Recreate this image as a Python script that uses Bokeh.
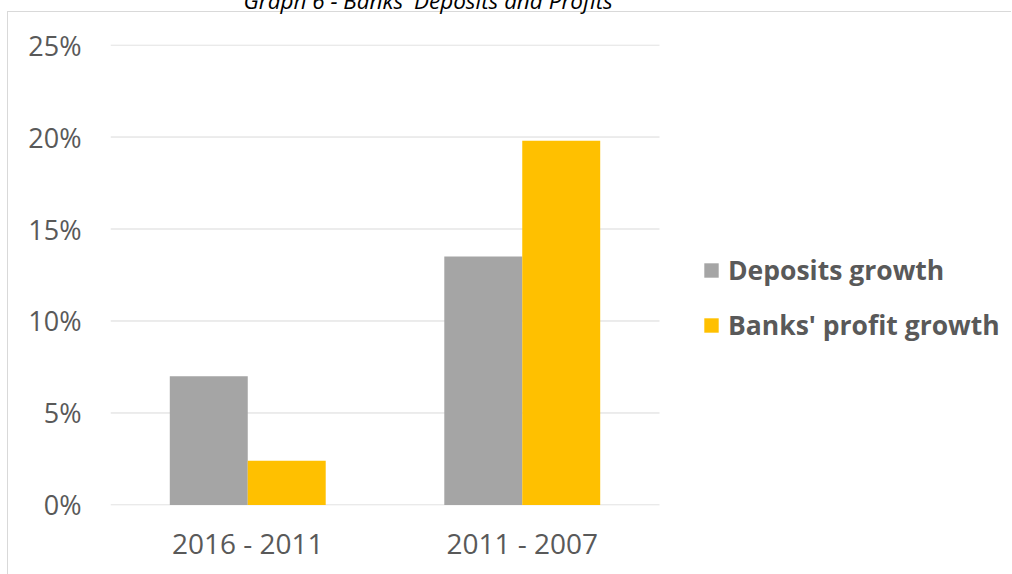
from bokeh.plotting import figure
from bokeh.models import (Range1d, FixedTicker, NumeralTickFormatter,
                          Legend, LegendItem, ColumnDataSource)
from bokeh.embed import file_html
from bokeh.resources import INLINE

# ---- data ----
categories = ["2016 - 2011", "2011 - 2007"]
deposits_growth = [0.070, 0.135]
profit_growth = [0.024, 0.198]
y_ticks = [0.0, 0.05, 0.10, 0.15, 0.20, 0.25]
series_names = ["Deposits growth", "Banks' profit growth"]
series_colors = ["#A5A5A5", "#FFC000"]
title_text = "Graph 6 - Banks' Deposits and Profits"

FONT = "Open Sans"
TXT = "#595959"
GRID = "#d9d9d9"

# layout (pixels)
W, H, TOP_SHIFT = 1004, 622, 48
LEFT_B, TOP_B, BOTTOM_B = 103, 92, 69
PLOT_W = 549                      # width of the category (bar) area
FRAME_W = W - LEFT_B              # frame runs to the right edge (legend lives inside)
n = len(categories)
x_end = n * FRAME_W / PLOT_W

cat_pos = [i + 0.5 for i in range(n)]
source = ColumnDataSource(dict(x=cat_pos, dep=deposits_growth, prof=profit_growth))

p = figure(
    width=W, height=H,
    x_range=Range1d(0, x_end),
    y_range=Range1d(-0.0003, 0.2503),
    output_backend="svg", toolbar_location=None,
    min_border_left=LEFT_B, min_border_right=0,
    min_border_top=TOP_B, min_border_bottom=BOTTOM_B,
    margin=(-TOP_SHIFT, 0, 0, 7),
    title=title_text,
)
p.styles = {
    "background": (
        f"linear-gradient({GRID},{GRID}) 0 {TOP_SHIFT + 11}px / 100% 1px no-repeat, "
        f"linear-gradient({GRID},{GRID}) 0 {TOP_SHIFT + 11}px / 1px 100% no-repeat, #ffffff"
    )
}
p.border_fill_color = None
p.background_fill_color = None
p.outline_line_color = None

p.title.text_font = FONT
p.title.text_font_size = "22.5px"
p.title.text_font_style = "italic"
p.title.text_color = "#000000"
p.title.align = "left"
p.title.offset = 133
p.title.standoff = 57

# horizontal gridlines limited to the bar area
p.segment(x0=0, x1=n, y0=y_ticks, y1=y_ticks, line_color=GRID, line_width=1)

bw = 0.284
r1 = p.vbar(x=[c - bw / 2 for c in cat_pos], top=deposits_growth, width=bw,
            color=series_colors[0], line_color=None)
r2 = p.vbar(x=[c + bw / 2 for c in cat_pos], top=profit_growth, width=bw,
            color=series_colors[1], line_color=None)

# axes
p.xaxis.ticker = FixedTicker(ticks=cat_pos)
p.xaxis.major_label_overrides = {c: lab for c, lab in zip(cat_pos, categories)}
p.yaxis.ticker = FixedTicker(ticks=y_ticks)
p.yaxis.formatter = NumeralTickFormatter(format="0%")
for ax in (p.xaxis[0], p.yaxis[0]):
    ax.axis_line_color = None
    ax.major_tick_line_color = None
    ax.minor_tick_line_color = None
    ax.major_label_text_font = FONT
    ax.major_label_text_color = TXT
p.yaxis.major_label_text_font_size = "27px"
p.xaxis.major_label_text_font_size = "28px"
p.yaxis.major_label_standoff = 23
p.xaxis.major_label_standoff = 12

p.xgrid.grid_line_color = None
p.ygrid.grid_line_color = None

legend = Legend(
    items=[LegendItem(label=series_names[0], renderers=[r1]),
           LegendItem(label=series_names[1], renderers=[r2])],
    location=(592, 162),
    glyph_width=18, glyph_height=18,
    label_text_font=FONT, label_text_font_size="26.5px",
    label_text_font_style="bold", label_text_color=TXT,
    label_standoff=8, spacing=19, padding=0, margin=0,
    border_line_color=None, background_fill_color=None,
)
p.add_layout(legend, "center")

open("out.html", "w").write(file_html(p, INLINE))
